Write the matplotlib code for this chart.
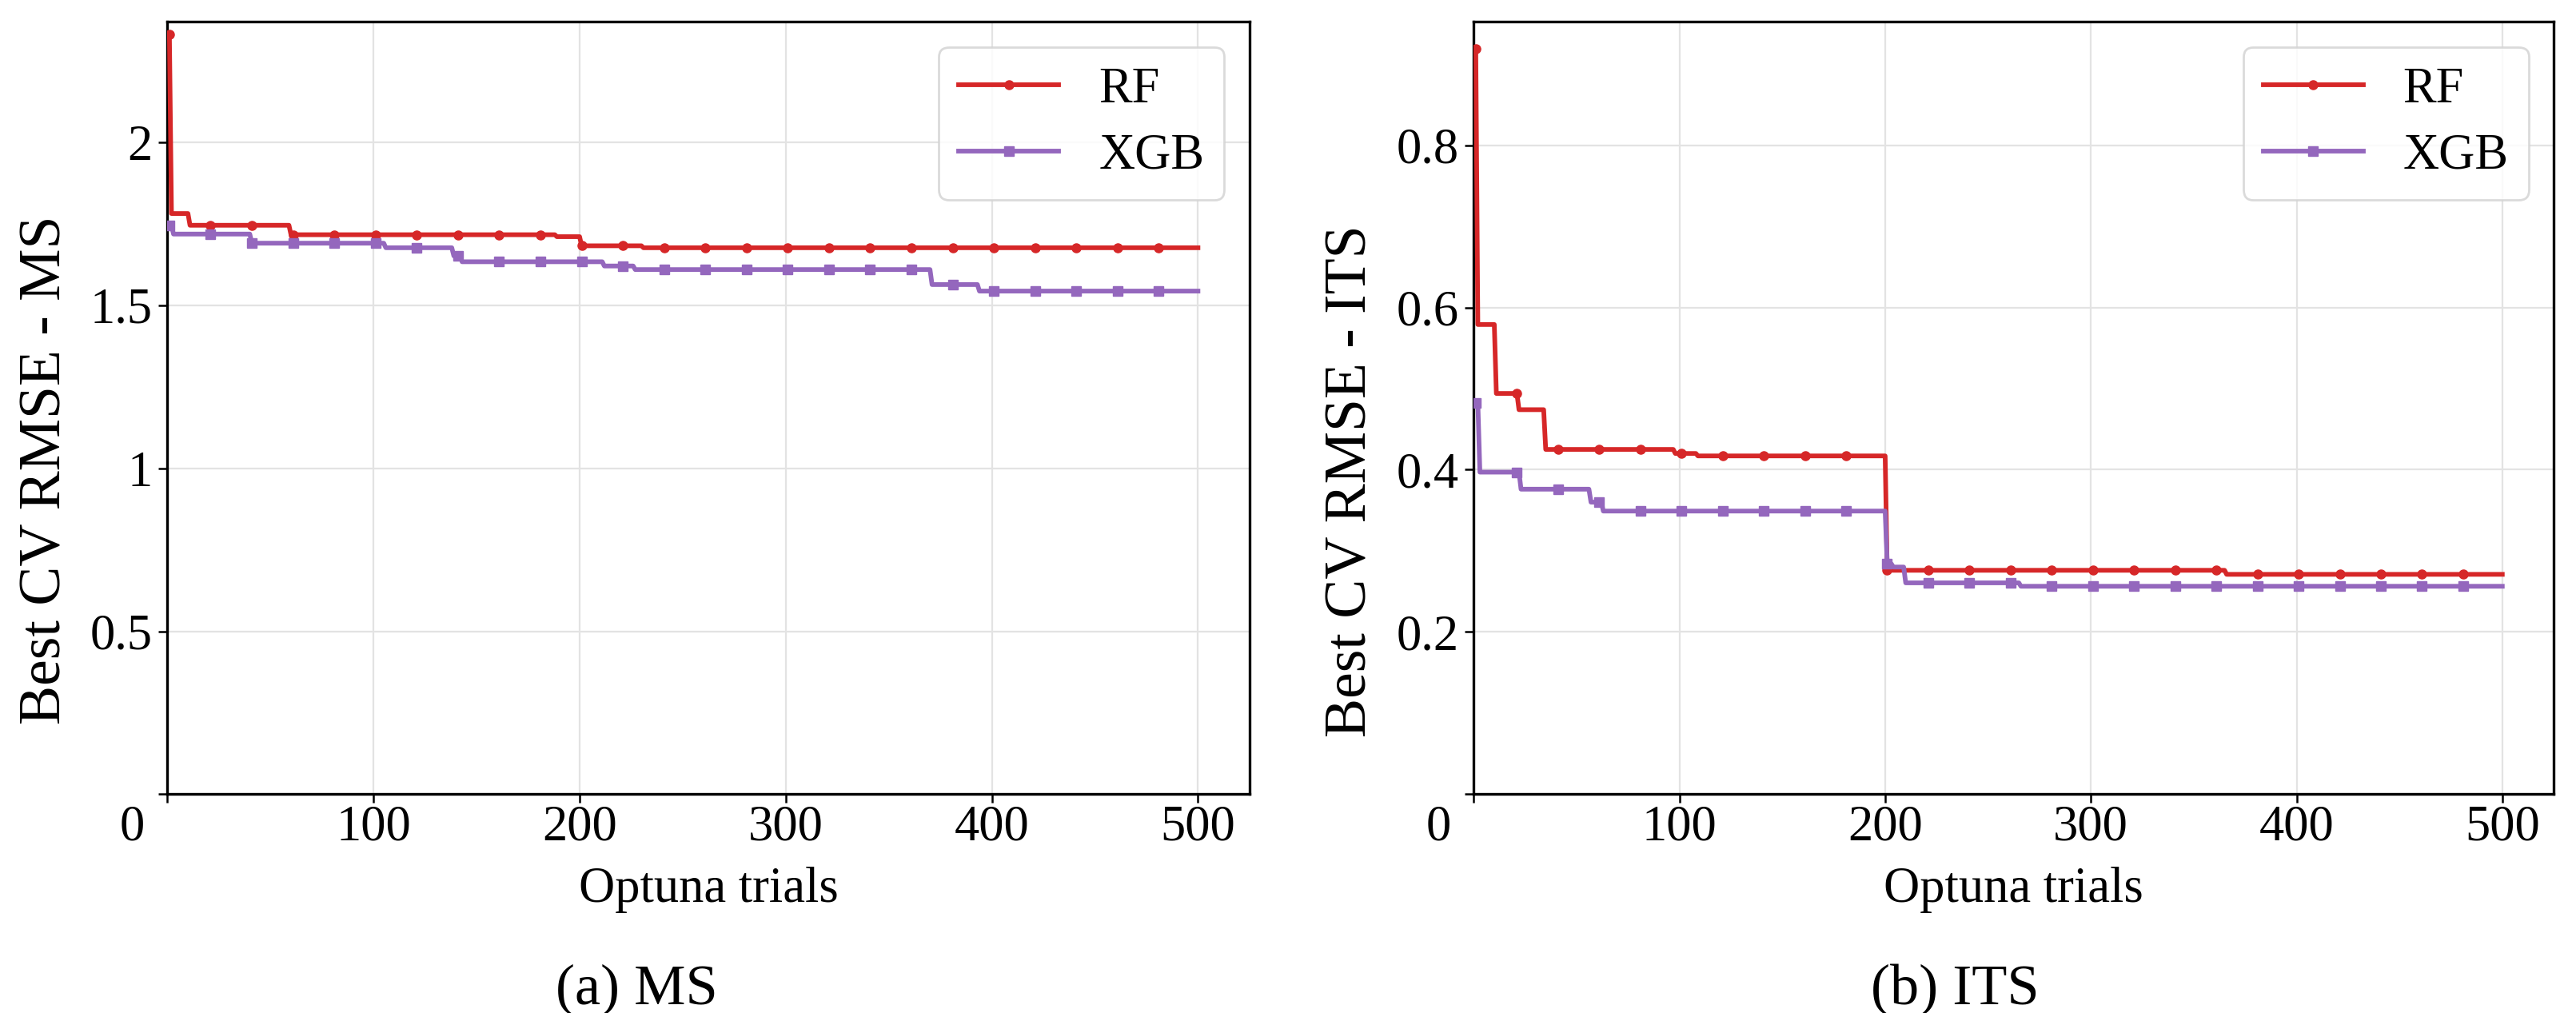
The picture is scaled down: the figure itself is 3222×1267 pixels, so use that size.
import numpy as np
import matplotlib
matplotlib.use("Agg")
import matplotlib.pyplot as plt
import matplotlib.transforms as mtransforms
from matplotlib.ticker import FuncFormatter

# ---------------- data (best-so-far values at change points) ----------------
trials = np.arange(1, 501)

ms_rf_steps = [1, 2, 11, 60, 189, 201, 231]
ms_rf_vals = [2.331, 1.782, 1.746, 1.717, 1.711, 1.683, 1.677]

ms_xgb_steps = [1, 3, 41, 106, 139, 143, 212, 227, 371, 394]
ms_xgb_vals = [1.746, 1.719, 1.691, 1.677, 1.652, 1.634, 1.621, 1.610, 1.564, 1.544]

its_rf_steps = [1, 2, 11, 22, 35, 98, 109, 201, 366]
its_rf_vals = [0.919, 0.579, 0.494, 0.474, 0.425, 0.420, 0.417, 0.276, 0.271]

its_xgb_steps = [1, 3, 23, 57, 63, 201, 204, 210, 266]
its_xgb_vals = [0.482, 0.397, 0.376, 0.360, 0.349, 0.284, 0.280, 0.2605, 0.2563]

x_ticks = [0, 100, 200, 300, 400, 500]
ms_yticks = [0, 0.5, 1, 1.5, 2]
its_yticks = [0, 0.2, 0.4, 0.6, 0.8]
series_labels = ["RF", "XGB"]


def best_so_far(steps, vals):
    idx = np.searchsorted(steps, trials, side="right") - 1
    return np.asarray(vals)[idx]


# ---------------- style ----------------
plt.rcParams["font.family"] = ["Liberation Serif", "DejaVu Serif"]
DPI = 100
W, H = 3223, 1267
FS = 45
YLFS = 53
RED = "#d62728"
PURPLE = "#9467bd"

fig = plt.figure(figsize=(W / DPI, H / DPI), dpi=DPI)

top_px, bot_px = 27.3, 993.3
ax1 = fig.add_axes([209.3 / W, 1 - bot_px / H, (1562.7 - 209.3) / W, (bot_px - top_px) / H])
ax2 = fig.add_axes([1843.3 / W, 1 - bot_px / H, (3194.0 - 1843.3) / W, (bot_px - top_px) / H])

TICKLEN = 7.7
XPAD = 1.5


def style_axes(ax, rf, xgb, yticks, ylabel, ylabel_x, ylabel_y):
    ax.plot(trials, rf, color=RED, lw=4.2, marker="o", ms=8, markevery=20,
            label=series_labels[0], zorder=3)
    ax.plot(trials, xgb, color=PURPLE, lw=4.2, marker="s", ms=8.5, markevery=20,
            label=series_labels[1], zorder=3)
    ax.set_xlim(left=0)
    ax.set_ylim(bottom=0)
    ax.set_xticks(x_ticks)
    ax.set_xticklabels(["" if t == 0 else str(t) for t in x_ticks])
    ax.set_yticks(yticks)
    ax.yaxis.set_major_formatter(FuncFormatter(lambda v, p: "" if v == 0 else f"{v:g}"))
    ax.grid(True, color="#e3e3e3", lw=1.6)
    ax.set_axisbelow(True)
    for s in ax.spines.values():
        s.set_linewidth(2.4)
        s.set_color("black")
    ax.tick_params(axis="both", direction="out", length=TICKLEN, width=1.8,
                   labelsize=FS, colors="black")
    ax.tick_params(axis="x", pad=XPAD)
    ax.tick_params(axis="y", pad=6)
    ax.set_xlabel("Optuna trials", fontsize=FS)
    ax.xaxis.set_label_coords(0.5, -0.094)
    ax.set_ylabel(ylabel, fontsize=YLFS)
    ax.yaxis.set_label_coords(ylabel_x, ylabel_y)
    # the "0" label sits left of the origin
    trans, va, ha = ax.get_xaxis_text1_transform(TICKLEN + XPAD)
    off = mtransforms.ScaledTranslation(-44 / DPI, 0, fig.dpi_scale_trans)
    ax.text(0, 0, "0", transform=trans + off, va=va, ha="center", fontsize=FS)
    leg = ax.legend(loc="upper right", fontsize=FS, labelspacing=0.4,
                    fancybox=True, framealpha=0.85, borderaxespad=0.5)
    leg.get_frame().set_edgecolor("#d4d4d4")
    leg.get_frame().set_linewidth(2.0)


style_axes(ax1, best_so_far(ms_rf_steps, ms_rf_vals), best_so_far(ms_xgb_steps, ms_xgb_vals),
           ms_yticks, "Best CV RMSE - MS", -0.087, 0.42)
style_axes(ax2, best_so_far(its_rf_steps, its_rf_vals), best_so_far(its_xgb_steps, its_xgb_vals),
           its_yticks, "Best CV RMSE - ITS", -0.088, 0.405)

fig.text(796 / W, 1 - 1238 / H, "(a) MS", ha="center", va="center", fontsize=52)
fig.text(2445 / W, 1 - 1238 / H, "(b) ITS", ha="center", va="center", fontsize=52)

fig.savefig("out.png", dpi=DPI, facecolor="white")
